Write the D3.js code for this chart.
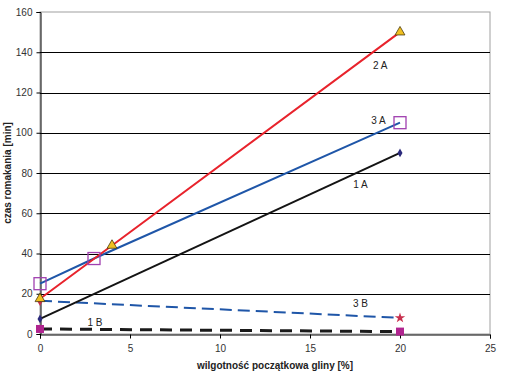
<!DOCTYPE html>
<html><head><meta charset="utf-8">
<script src="https://cdn.jsdelivr.net/npm/d3@7"></script>
<style>
body{margin:0;background:#fff;}
text{font-family:"Liberation Sans",Arial,sans-serif;}
</style></head>
<body><svg id="c" width="508" height="377"></svg>
<script>
const xTicks = [0,5,10,15,20,25];
const yTicks = [0,20,40,60,80,100,120,140,160];
const x1A = [0,20],    y1A = [7.5,90];
const x2A = [0,4,20],  y2A = [17.5,44,150];
const x3A = [0,3,20],  y3A = [25,37.5,105];
const x1B = [0,20],    y1B = [2.5,1.2];
const x3B = [0,20],    y3B = [16.5,8];
const labels = [
  {name:"2 A", x:18.9, y:131.7},
  {name:"3 A", x:18.8, y:104.3},
  {name:"1 A", x:17.8, y:72.5},
  {name:"3 B", x:17.8, y:13.4},
  {name:"1 B", x:3.05, y:4},
];

const svg = d3.select("#c");
const L=40, R=490, T=12, B=334;
const x = d3.scaleLinear().domain([0,25]).range([L,R]);
const y = d3.scaleLinear().domain([0,160]).range([B,T]);

svg.append("rect").attr("x",L).attr("y",T).attr("width",R-L).attr("height",B-T)
  .attr("fill","none").attr("stroke","#a0a0a0").attr("stroke-width",1);
svg.append("g").selectAll("line").data(yTicks.filter(v=>v>0 && v<160)).join("line")
  .attr("x1",L).attr("x2",R).attr("y1",d=>Math.round(y(d))+0.5).attr("y2",d=>Math.round(y(d))+0.5)
  .attr("stroke","#000").attr("stroke-width",1);

const ya = svg.append("g").attr("transform",`translate(${L+0.5},0)`)
  .call(d3.axisLeft(y).tickValues(yTicks).tickSize(4).tickPadding(4));
const xa = svg.append("g").attr("transform",`translate(0,${B+0.5})`)
  .call(d3.axisBottom(x).tickValues(xTicks).tickSize(4).tickPadding(6));
[ya,xa].forEach(a=>{
  a.select(".domain").attr("stroke","#000");
  a.selectAll(".tick line").attr("stroke","#000");
  a.selectAll("text").attr("font-size",10).attr("fill","#333").style("font-family","'Liberation Sans',Arial,sans-serif");
});

const line = d3.line().x(d=>x(d[0])).y(d=>y(d[1]));
const zip = (a,b)=>a.map((v,i)=>[v,b[i]]);

function series(xs,ys,color,width,dash){
  svg.append("path").datum(zip(xs,ys)).attr("d",line)
    .attr("fill","none").attr("stroke",color).attr("stroke-width",width)
    .attr("stroke-dasharray",dash||null);
}
series(x1B,y1B,"#1a1a1a",3,"12,8");
series(x3B,y3B,"#1f56a8",2,"12,6");
series(x1A,y1A,"#141414",2);
series(x3A,y3A,"#1f56a8",2);
series(x2A,y2A,"#e8232c",2);

const g = svg.append("g");
zip(x1B,y1B).forEach(d=>g.append("rect").attr("x",x(d[0])-4).attr("y",y(d[1])-4).attr("width",8).attr("height",8).attr("fill","#b0248f"));
zip(x3B,y3B).forEach((d,i)=>g.append("path").attr("transform",`translate(${x(d[0])},${y(d[1])})`)
  .attr("d",d3.symbol(i===0?d3.symbolDiamond:d3.symbolStar,i===0?30:34)()).attr("fill","#c8304e"));
zip(x1A,y1A).forEach(d=>g.append("path").attr("transform",`translate(${x(d[0])},${y(d[1])})`)
  .attr("d",d3.symbol(d3.symbolDiamond,22)()).attr("fill","#2b2a7c"));
zip(x3A,y3A).forEach(d=>g.append("rect").attr("x",x(d[0])-6).attr("y",y(d[1])-6).attr("width",12).attr("height",12)
  .attr("fill","none").attr("stroke","#a040b0").attr("stroke-width",1.3));
zip(x2A,y2A).forEach(d=>g.append("path").attr("transform",`translate(${x(d[0])},${y(d[1])})`)
  .attr("d",d3.symbol(d3.symbolTriangle,42)()).attr("fill","#f0c020").attr("stroke","#4a3a10").attr("stroke-width",0.8));

svg.append("g").selectAll("text").data(labels).join("text")
  .attr("x",d=>x(d.x)).attr("y",d=>y(d.y)).attr("text-anchor","middle")
  .attr("font-size",10).attr("fill","#222").text(d=>d.name);

svg.append("text").attr("x",275).attr("y",369).attr("text-anchor","middle")
  .attr("font-size",10).attr("font-weight","bold").attr("fill","#222").text("wilgotność początkowa gliny [%]");
svg.append("text").attr("transform","translate(11,173) rotate(-90)").attr("text-anchor","middle")
  .attr("font-size",10).attr("font-weight","bold").attr("fill","#222").text("czas romakania [min]");
</script></body></html>
